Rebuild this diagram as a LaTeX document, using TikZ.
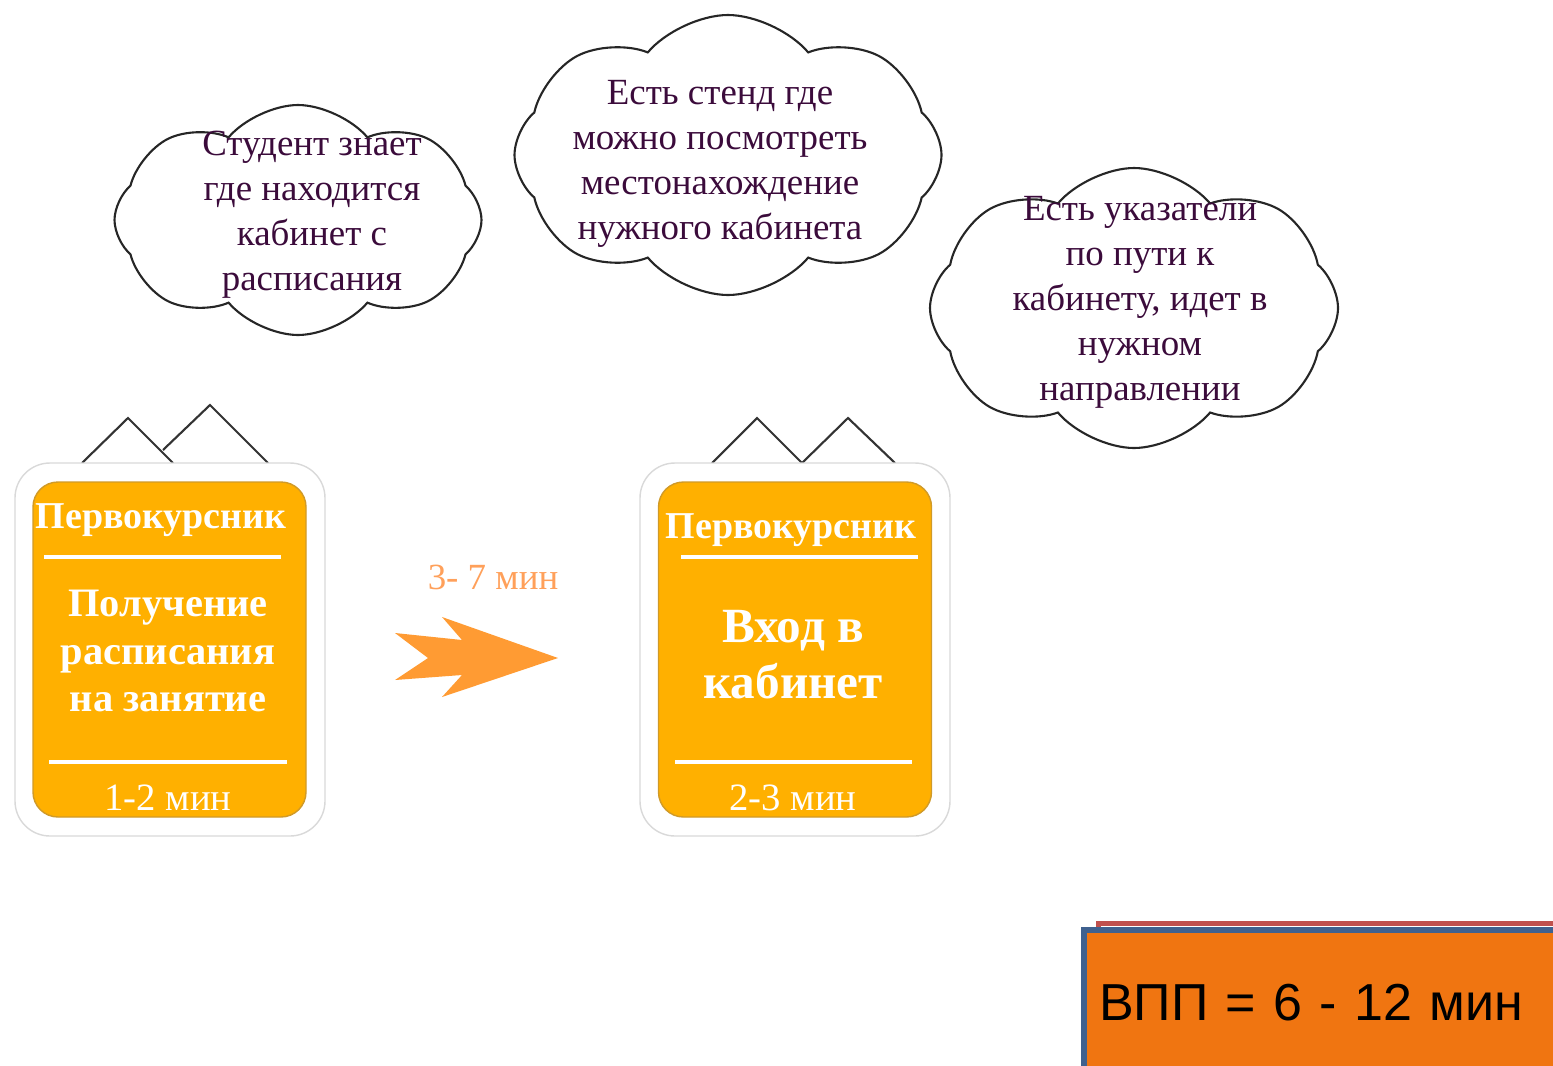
\documentclass[tikz,border=0pt]{standalone}
\usepackage{fontspec}
\setmainfont{Liberation Serif}
\newfontfamily\totalfont{Liberation Sans}
\usepackage{xcolor}
\usepackage{tikz}
\usetikzlibrary{shapes.symbols}

\definecolor{notetext}{HTML}{3B0B3B}
\definecolor{panelfill}{HTML}{FFB000}
\definecolor{panelline}{HTML}{D09A28}
\definecolor{arrowfill}{HTML}{FF9B33}
\definecolor{arrowtext}{HTML}{FFA05A}
\definecolor{totalfill}{HTML}{F07511}
\definecolor{totalline}{HTML}{3F618F}
\definecolor{backline}{HTML}{C0504D}

\begin{document}
\begin{tikzpicture}[
    bubble/.style={cloud, draw=black!85, line width=0.6pt, cloud puffs=8, cloud puff arc=100, cloud ignores aspect, inner sep=0pt},
    note/.style={text=notetext, align=center, font=\fontsize{10.5}{12.8}\selectfont},
    frame/.style={rectangle, rounded corners=0.35cm, draw=black!15, fill=white, minimum width=3.1cm, minimum height=3.73cm},
    panel/.style={rectangle, rounded corners=0.25cm, draw=panelline, fill=panelfill, minimum width=2.73cm, minimum height=3.35cm},
    title/.style={text=white, font=\bfseries\fontsize{10.8}{13}\selectfont},
    task/.style={text=white, align=center, font=\bfseries\fontsize{11.5}{13.6}\selectfont},
    time/.style={text=white, font=\fontsize{11}{13}\selectfont},
    rule/.style={white, line width=1.2pt},
    hanger/.style={black!80, line width=0.6pt}
]
    \useasboundingbox (0,0) rectangle (15.53,-10.65);

    % Clouds
    \node[bubble, minimum width=3.67cm, minimum height=2.30cm] (cloudA) at (2.98,-2.20) {};
    \node[note] (noteA) at (3.12,-2.15) {Студент знает\\где находится\\кабинет с\\расписания};
    \node[bubble, minimum width=4.27cm, minimum height=2.80cm] (cloudB) at (7.28,-1.55) {};
    \node[note] (noteB) at (7.20,-1.64) {Есть стенд где\\можно посмотреть\\местонахождение\\нужного кабинета};
    \node[bubble, minimum width=4.08cm, minimum height=2.80cm] (cloudC) at (11.34,-3.08) {};
    \node[note] (noteC) at (11.40,-3.02) {Есть указатели\\по пути к\\кабинету, идет в\\нужном\\направлении};

    % Hangers
    \draw[hanger] (0.82,-4.63) -- (1.28,-4.18) -- (1.73,-4.63);
    \draw[hanger] (1.63,-4.50) -- (2.10,-4.05) -- (2.68,-4.63);
    \draw[hanger] (7.12,-4.63) -- (7.57,-4.18) -- (8.02,-4.63) -- (8.48,-4.18) -- (8.95,-4.63);

    % Cards
    \node[frame] (cardA) at (1.70,-6.495) {};
    \node[panel] (panelA) at (1.695,-6.495) {};
    \node[title] (titleA) at (1.61,-5.20) {Первокурсник};
    \draw[rule] (0.44,-5.57) -- (2.81,-5.57);
    \node[task] (taskA) at (1.68,-6.51) {Получение\\расписания\\на занятие};
    \draw[rule] (0.49,-7.62) -- (2.87,-7.62);
    \node[time] (timeA) at (1.68,-7.98) {1-2 мин};

    \node[frame] (cardB) at (7.95,-6.495) {};
    \node[panel] (panelB) at (7.95,-6.495) {};
    \node[title] (titleB) at (7.91,-5.30) {Первокурсник};
    \draw[rule] (6.81,-5.57) -- (9.18,-5.57);
    \node[task, font=\bfseries\fontsize{14}{16}\selectfont] (taskB) at (7.93,-6.55) {Вход в\\кабинет};
    \draw[rule] (6.75,-7.62) -- (9.12,-7.62);
    \node[time] (timeB) at (7.93,-7.98) {2-3 мин};

    % Arrow
    \fill[arrowfill] (3.95,-6.33) -- (4.62,-6.40) -- (4.42,-6.17) -- (5.58,-6.58)
        -- (4.42,-6.97) -- (4.62,-6.75) -- (3.95,-6.80) -- (4.28,-6.58) -- cycle;
    \node[text=arrowtext, font=\fontsize{10.5}{12}\selectfont] (gap) at (4.93,-5.77) {3- 7 мин};

    % Total
    \node[rectangle, draw=backline, line width=1.5pt, fill=white, anchor=north west,
        minimum width=4.8cm, minimum height=1.6cm] (shadow) at (10.96,-9.21) {};
    \node[rectangle, draw=totalline, line width=1.8pt, fill=totalfill, anchor=north west,
        minimum width=4.9cm, minimum height=1.44cm, text width=4.6cm, inner xsep=0.12cm,
        align=left, font=\totalfont\fontsize{14.8}{18}\selectfont] (total) at (10.81,-9.27) {ВПП = 6 - 12 мин};
\end{tikzpicture}
\end{document}
